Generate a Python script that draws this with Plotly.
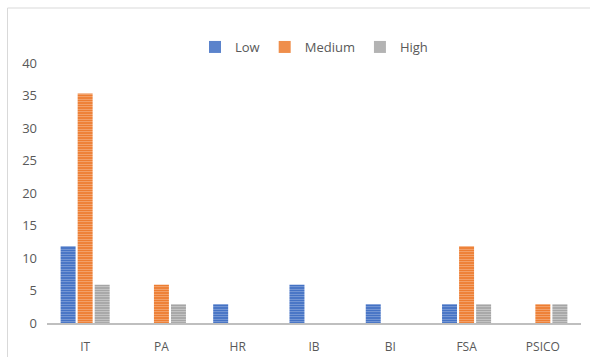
import plotly.graph_objects as go

categories = ["IT", "PA", "HR", "IB", "BI", "FSA", "PSICO"]
low = [11.8, 0, 2.9, 5.9, 2.9, 2.9, 0]
medium = [35.3, 5.9, 0, 0, 0, 11.8, 2.9]
high = [5.9, 2.9, 0, 0, 0, 2.9, 2.9]
y_ticks = [0, 5, 10, 15, 20, 25, 30, 35, 40]

series = [
    ("Low", low, "#4472C4", "#8FA9DC"),
    ("Medium", medium, "#ED7D31", "#F5B48A"),
    ("High", high, "#A5A5A5", "#D2D2D2"),
]

fig = go.Figure()
for name, vals, col, light in series:
    fig.add_trace(go.Bar(
        x=categories, y=vals, name=name,
        marker=dict(color=col, line=dict(width=0),
                    pattern=dict(shape="-", bgcolor=col, fgcolor=light,
                                 size=2.5, solidity=0.3, fillmode="replace")),
    ))

W, H = 590, 357
l, r, t, b = 47, 9, 63, 34
pw, ph = W - l - r, H - t - b

fig.update_layout(
    width=W, height=H,
    margin=dict(l=l, r=r, t=t, b=b),
    paper_bgcolor="white", plot_bgcolor="white",
    barmode="group", bargap=0.33, bargroupgap=0.12,
    font=dict(family="Open Sans, Liberation Sans, sans-serif", size=12, color="#595959"),
    legend=dict(orientation="h", x=0.5, xanchor="center", y=1 + 16 / ph, yanchor="middle",
                font=dict(size=13, color="#595959"), itemwidth=30, traceorder="normal"),
    xaxis=dict(showgrid=False, showline=True, linecolor="#BFBFBF", linewidth=2,
               ticks="", tickfont=dict(size=12, color="#595959"), zeroline=False,
               ticklabelstandoff=12, automargin=False),
    yaxis=dict(range=[0, 40], tickvals=y_ticks, showgrid=False, showline=False,
               zeroline=False, ticks="", tickfont=dict(size=13, color="#595959"),
               ticklabelstandoff=9, automargin=False),
    shapes=[
        dict(type="line", xref="paper", yref="paper",
             x0=(7.5 - l) / pw, x1=(7.5 - l) / pw, y0=-(H - t) / ph, y1=1 + (t - 8) / ph,
             line=dict(color="#D9D9D9", width=1)),
        dict(type="line", xref="paper", yref="paper",
             x0=(7.5 - l) / pw, x1=(W - l) / pw, y0=1 + (t - 8) / ph, y1=1 + (t - 8) / ph,
             line=dict(color="#D9D9D9", width=1)),
    ],
)

fig.write_html("out.html")
